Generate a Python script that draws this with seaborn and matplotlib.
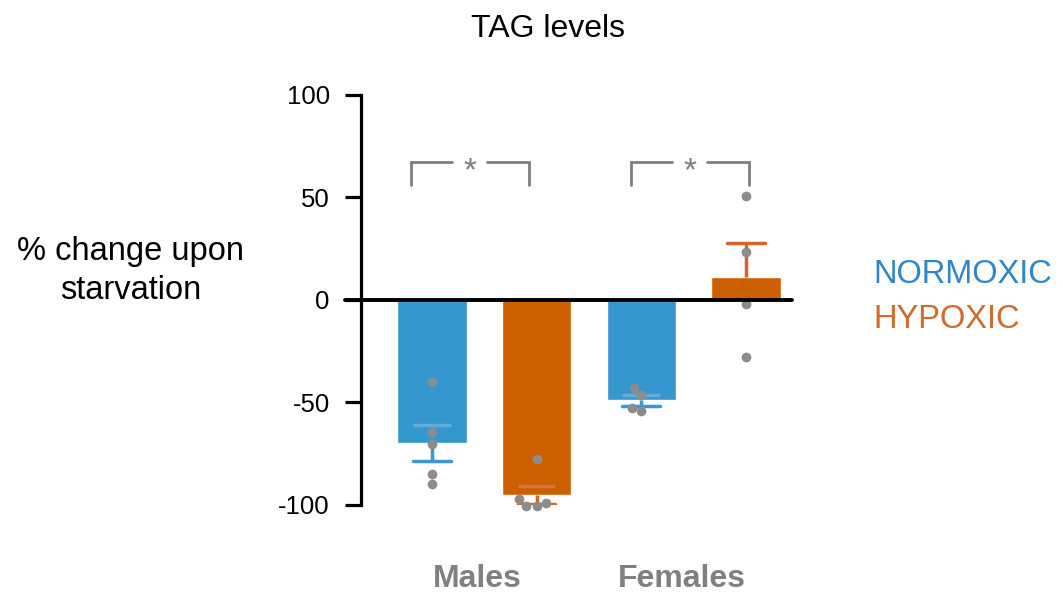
import numpy as np
import pandas as pd
import seaborn as sns
import matplotlib.pyplot as plt

# values (% change upon starvation)
male_normoxic = [-40.0, -64.4, -70.2, -84.9, -89.8]
male_hypoxic = [-77.6, -97.1, -100.5, -100.5, -99.0]
female_normoxic = [-46.3, -42.9, -54.1, -52.7]
female_hypoxic = [50.7, 23.4, -2.0, -27.8]

bar_names = ['Males NORMOXIC', 'Males HYPOXIC', 'Females NORMOXIC', 'Females HYPOXIC']
bar_conditions = ['NORMOXIC', 'HYPOXIC', 'NORMOXIC', 'HYPOXIC']
groups = ['Males', 'Females']
y_ticks = [-100, -50, 0, 50, 100]

rows = []
for name, cond, vals in zip(bar_names, bar_conditions,
                            [male_normoxic, male_hypoxic, female_normoxic, female_hypoxic]):
    for v in vals:
        rows.append({'bar': name, 'condition': cond, 'value': v})
df = pd.DataFrame(rows)

stats = df.groupby('bar', sort=False)['value'].agg(['mean', 'sem']).reindex(bar_names)

bar_col = {'NORMOXIC': '#3497CD', 'HYPOXIC': '#CC5F00'}
err_col = {'NORMOXIC': '#3A98D0', 'HYPOXIC': '#D4652B'}
faint_col = {'NORMOXIC': '#62ACD9', 'HYPOXIC': '#D9753F'}
text_col = {'NORMOXIC': '#2F87C8', 'HYPOXIC': '#D06A2E'}
gray = '#8C8C8C'

sns.set_style('white')
plt.rcParams['font.family'] = ['Liberation Sans', 'DejaVu Sans']
plt.rcParams['text.color'] = 'black'
plt.rcParams['ytick.color'] = 'black'

fig = plt.figure(figsize=(10.63, 5.93), dpi=100)
ax = fig.add_axes([0.3396, 0.1484, 0.4055, 0.6914])

sns.barplot(data=df, x='bar', y='value', hue='condition', order=bar_names,
            palette=bar_col, dodge=False, width=0.66, errorbar=None,
            legend=False, saturation=1, ax=ax, zorder=2)

# error bars: outward half solid, inner cap faint
cap_hw = 0.18
for i, name in enumerate(bar_names):
    m, s = stats.loc[name, 'mean'], stats.loc[name, 'sem']
    cond = bar_conditions[i]
    outer = m - s if m < 0 else m + s
    ax.vlines(i, m, outer, color=err_col[cond], lw=2.5, zorder=3)
    ax.hlines(outer, i - cap_hw, i + cap_hw, color=err_col[cond], lw=2.5, zorder=3,
              capstyle='round')
    if abs(m) > s:
        inner = m + s if m < 0 else m - s
        ax.hlines(inner, i - cap_hw, i + cap_hw, color=faint_col[cond], lw=2.5, zorder=3)

sns.swarmplot(data=df, x='bar', y='value', order=bar_names, color=gray,
              size=7, ax=ax, zorder=4, clip_on=False)

ax.set_xlim(-0.678, 3.44)
ax.set_ylim(-100, 100)

# zero line
ax.plot([-0.83, 3.44], [0, 0], color='black', lw=2.8, clip_on=False, zorder=5)

# significance brackets
for cx in [0.363, 2.464]:
    hw, gap = 0.563, 0.167
    ax.plot([cx - hw, cx - hw, cx - gap], [56.1, 67.3, 67.3], color='#7F7F7F', lw=2.0,
            solid_joinstyle='miter', clip_on=False)
    ax.plot([cx + gap, cx + hw, cx + hw], [67.3, 67.3, 56.1], color='#7F7F7F', lw=2.0,
            solid_joinstyle='miter', clip_on=False)
    ax.text(cx, 58.5, '*', ha='center', va='baseline', fontsize=24, color='#7F7F7F')

for sp in ['top', 'right', 'bottom']:
    ax.spines[sp].set_visible(False)
ax.spines['left'].set_linewidth(2.3)
ax.spines['left'].set_color('black')
ax.spines['left'].set_bounds(-100, 100)
ax.set_yticks(y_ticks)
ax.set_yticklabels([str(t) for t in y_ticks])
ax.tick_params(axis='y', direction='out', length=11.5, width=2.3, color='black',
               labelcolor='black', labelsize=18.5, pad=11, left=True)
ax.set_xticks([])
ax.set_xlabel('')
ax.set_ylabel('')

fig.text(0.5155, 0.9376, 'TAG levels', ha='center', va='baseline', fontsize=23,
         color='black')
fig.text(0.1232, 0.543, '% change upon\nstarvation', ha='center', va='center',
         fontsize=23.5, linespacing=1.35, multialignment='center', color='black')

fig.text(0.8213, 0.5228, 'NORMOXIC', ha='left', va='baseline', fontsize=23.5,
         color=text_col['NORMOXIC'])
fig.text(0.8213, 0.4469, 'HYPOXIC', ha='left', va='baseline', fontsize=23.5,
         color=text_col['HYPOXIC'])

for gx, g in zip([477, 682], groups):
    fig.text(gx / 1063, 1 - 587 / 593, g, ha='center', va='baseline', fontsize=23,
             fontweight='bold', color='#808080')

fig.savefig('out.png', dpi=100)
